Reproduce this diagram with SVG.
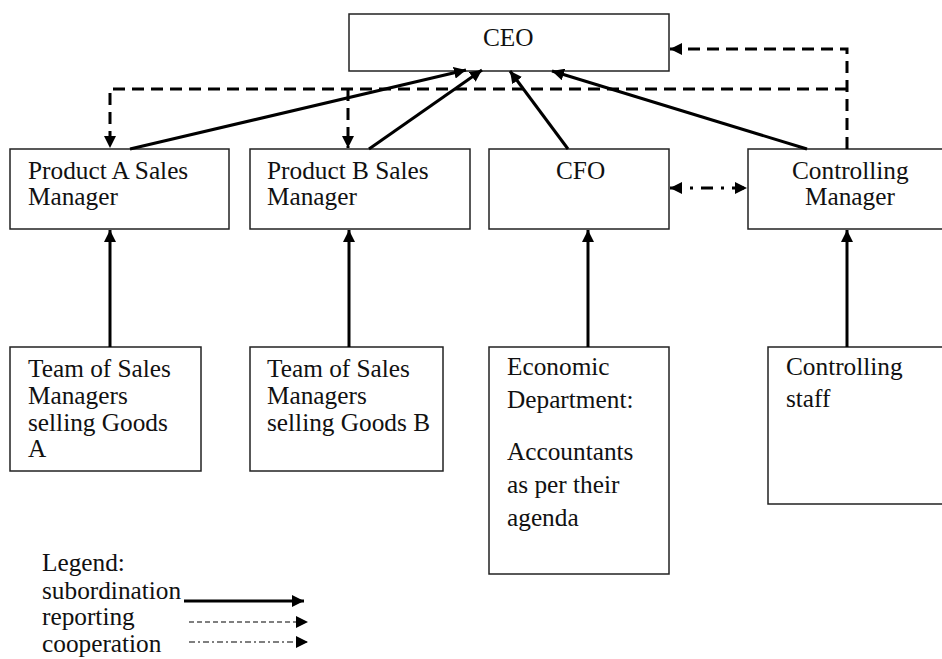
<svg xmlns="http://www.w3.org/2000/svg" width="942" height="659" viewBox="0 0 942 659">
<style>
.box{fill:#fff;stroke:#222;stroke-width:1.5}
text{font-family:'Liberation Serif','Times New Roman',Tinos,'DejaVu Serif',serif;font-size:25.3px;fill:#111}
.sol{fill:none;stroke:#000;stroke-width:3}
.dash{fill:none;stroke:#000;stroke-width:3;stroke-dasharray:12 7}
.dd{fill:none;stroke:#000;stroke-width:3;stroke-dasharray:12 8 3 8}
.lsol{fill:none;stroke:#000;stroke-width:3}
.ldash{fill:none;stroke:#000;stroke-width:1.2;stroke-dasharray:5 3}
.ldd{fill:none;stroke:#000;stroke-width:1.2;stroke-dasharray:6 3 2 3}
</style>
<defs>
<marker id="ah" viewBox="0 0 10 10" refX="10" refY="5" markerWidth="12" markerHeight="12" markerUnits="userSpaceOnUse" orient="auto-start-reverse">
<path d="M0,0 L10,5 L0,10 z" fill="#000"/>
</marker>
</defs>
<g id="ceo"><rect class="box" x="349" y="14" width="320" height="57"/><text x="483" y="46">CEO</text></g>
<g id="prodA"><rect class="box" x="10" y="149" width="219" height="80"/><text x="28" y="179">Product A Sales</text><text x="28" y="205">Manager</text></g>
<g id="prodB"><rect class="box" x="250" y="149" width="220" height="80"/><text x="267" y="179">Product B Sales</text><text x="267" y="205">Manager</text></g>
<g id="cfo"><rect class="box" x="489" y="149" width="180" height="80"/><text x="556" y="179">CFO</text></g>
<g id="ctrlmgr"><path class="box" d="M950,149 H748 V229 H950"/><text x="792" y="179">Controlling</text><text x="805" y="205">Manager</text></g>
<g id="teamA"><rect class="box" x="10" y="347" width="191" height="124"/><text x="28" y="377">Team of Sales</text><text x="28" y="404">Managers</text><text x="28" y="431">selling Goods</text><text x="28" y="457">A</text></g>
<g id="teamB"><rect class="box" x="250" y="347" width="193" height="124"/><text x="267" y="377">Team of Sales</text><text x="267" y="404">Managers</text><text x="267" y="431">selling Goods B</text></g>
<g id="econ"><rect class="box" x="489" y="347" width="180" height="227"/><text x="507" y="375">Economic</text><text x="507" y="408">Department:</text><text x="507" y="460">Accountants</text><text x="507" y="493">as per their</text><text x="507" y="526">agenda</text></g>
<g id="ctrlstaff"><path class="box" d="M950,347 H768 V504 H950"/><text x="786" y="375">Controlling</text><text x="786" y="407">staff</text></g>
<g id="connectors">
<line class="sol" x1="130" y1="149" x2="466" y2="70" marker-end="url(#ah)"/>
<line class="sol" x1="369" y1="149" x2="482" y2="70" marker-end="url(#ah)"/>
<line class="sol" x1="568" y1="149" x2="510" y2="71" marker-end="url(#ah)"/>
<line class="sol" x1="807" y1="149" x2="552" y2="71" marker-end="url(#ah)"/>
<line class="sol" x1="110" y1="347" x2="110" y2="230" marker-end="url(#ah)"/>
<line class="sol" x1="349" y1="347" x2="349" y2="230" marker-end="url(#ah)"/>
<line class="sol" x1="588" y1="347" x2="588" y2="230" marker-end="url(#ah)"/>
<line class="sol" x1="847" y1="347" x2="847" y2="230" marker-end="url(#ah)"/>
<path class="dash" d="M847,149 V49 H670" marker-end="url(#ah)"/>
<path class="dash" d="M847,89 H110 V148" marker-end="url(#ah)"/>
<path class="dash" d="M348,89 V148" marker-end="url(#ah)"/>
<line class="dd" x1="670" y1="188" x2="747" y2="188" marker-start="url(#ah)" marker-end="url(#ah)"/>
</g>
<g id="legend">
<text x="42" y="571">Legend:</text>
<text x="42" y="599">subordination</text>
<text x="42" y="625">reporting</text>
<text x="42" y="652">cooperation</text>
<line class="lsol" x1="184" y1="601" x2="304" y2="601" marker-end="url(#ah)"/>
<line class="ldash" x1="189" y1="622" x2="308" y2="622" marker-end="url(#ah)"/>
<line class="ldd" x1="189" y1="642" x2="308" y2="642" marker-end="url(#ah)"/>
</g>
</svg>
